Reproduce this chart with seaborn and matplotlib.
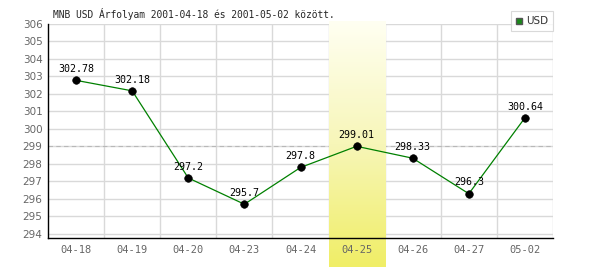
import numpy as np
import pandas as pd
import matplotlib
matplotlib.use("Agg")
import matplotlib.pyplot as plt
import seaborn as sns
from matplotlib.colors import LinearSegmentedColormap
from matplotlib.lines import Line2D

dates = ["04-18", "04-19", "04-20", "04-23", "04-24", "04-25", "04-26", "04-27", "05-02"]
values = [302.78, 302.18, 297.2, 295.7, 297.8, 299.01, 298.33, 296.3, 300.64]
value_labels = ["302.78", "302.18", "297.2", "295.7", "297.8", "299.01", "298.33", "296.3", "300.64"]
highlight = "04-25"
ref_level = 299
y_ticks = list(range(294, 307))
title = "MNB USD Árfolyam 2001-04-18 és 2001-05-02 között."
series_name = "USD"

sns.set_theme(style="white")
plt.rcParams['font.family'] = ['DejaVu Sans']

df = pd.DataFrame({"date": dates, "value": values})

fig = plt.figure(figsize=(6, 2.7), dpi=100)
ax = fig.add_axes([48/600, 1-238/270, 505/600, 214/270])

sns.lineplot(data=df, x="date", y="value", color="#008000", linewidth=0.9, ax=ax, zorder=4, sort=False)
sns.scatterplot(data=df, x="date", y="value", color="black", s=30, edgecolor="black", ax=ax, zorder=5)

ax.set_xlim(-0.5, len(dates) - 0.5)
ax.set_ylim(293.77, 306)

# grid
for yv in y_ticks:
    ax.axhline(yv, color="#d9d9d9", lw=1, zorder=0)
for i in range(1, len(dates) + 1):
    ax.axvline(i - 0.5, color="#d9d9d9", lw=1, zorder=0)
ax.axhline(ref_level, color="#b8b8b8", lw=0.8, ls=(0, (4, 3)), zorder=1)

# highlight band (gradient), drawn over the grid and extending below the axes
hi = dates.index(highlight)
cmap = LinearSegmentedColormap.from_list("band", ["#fffff2", "#f7f6b8", "#f0ee66"])
grad = np.linspace(0, 1, 256).reshape(-1, 1)
fig.canvas.draw()
inv = ax.transData.inverted()
y_top = inv.transform((0, 270 - 21))[1]
y_bot = inv.transform((0, 270 - 267))[1]
ax.imshow(grad, aspect="auto", cmap=cmap, extent=(hi - 0.5, hi + 0.5, y_bot, y_top),
          origin="upper", zorder=2, clip_on=False)
ax.set_xlim(-0.5, len(dates) - 0.5)
ax.set_ylim(293.77, 306)

# value labels
for i, (v, lab) in enumerate(zip(values, value_labels)):
    ax.annotate(lab, (i, v), xytext=(0, 4.5), textcoords="offset points", ha="center", va="bottom",
                fontsize=7.2, family="DejaVu Sans Mono", color="black", zorder=6)

ax.set_yticks(y_ticks)
ax.set_yticklabels([str(t) for t in y_ticks])
ax.tick_params(axis="y", labelsize=7.5, labelcolor="#666666", length=0, pad=4)
ax.tick_params(axis="x", labelsize=7.5, labelcolor="#666666", length=0, pad=5)
for lbl in ax.get_xticklabels():
    lbl.set_family("DejaVu Sans Mono")
ax.xaxis.set_zorder(6)
ax.yaxis.set_zorder(6)
ax.set_xlabel("")
ax.set_ylabel("")
for s in ["top", "right"]:
    ax.spines[s].set_visible(False)
for s in ["left", "bottom"]:
    ax.spines[s].set_color("black")
    ax.spines[s].set_linewidth(1)
    ax.spines[s].set_zorder(7)

fig.text(53/600, 1 - 14/270, title, fontsize=6.9, family="DejaVu Sans Mono", va="center", ha="left")

handle = Line2D([], [], marker="s", color="none", markerfacecolor="#1a8a1a", markeredgecolor="#555555",
                markersize=5, label=series_name)
leg = fig.legend(handles=[handle], loc="upper right", bbox_to_anchor=(553/600, 1 - 11/270),
                 frameon=True, fancybox=False, fontsize=7.5, handlelength=0.6, handletextpad=0.3,
                 borderpad=0.5, borderaxespad=0)
leg.get_frame().set_edgecolor("#d0d0d0")
leg.get_frame().set_linewidth(0.8)
for t in leg.get_texts():
    t.set_color("#333333")

fig.savefig("out.png", dpi=100)
